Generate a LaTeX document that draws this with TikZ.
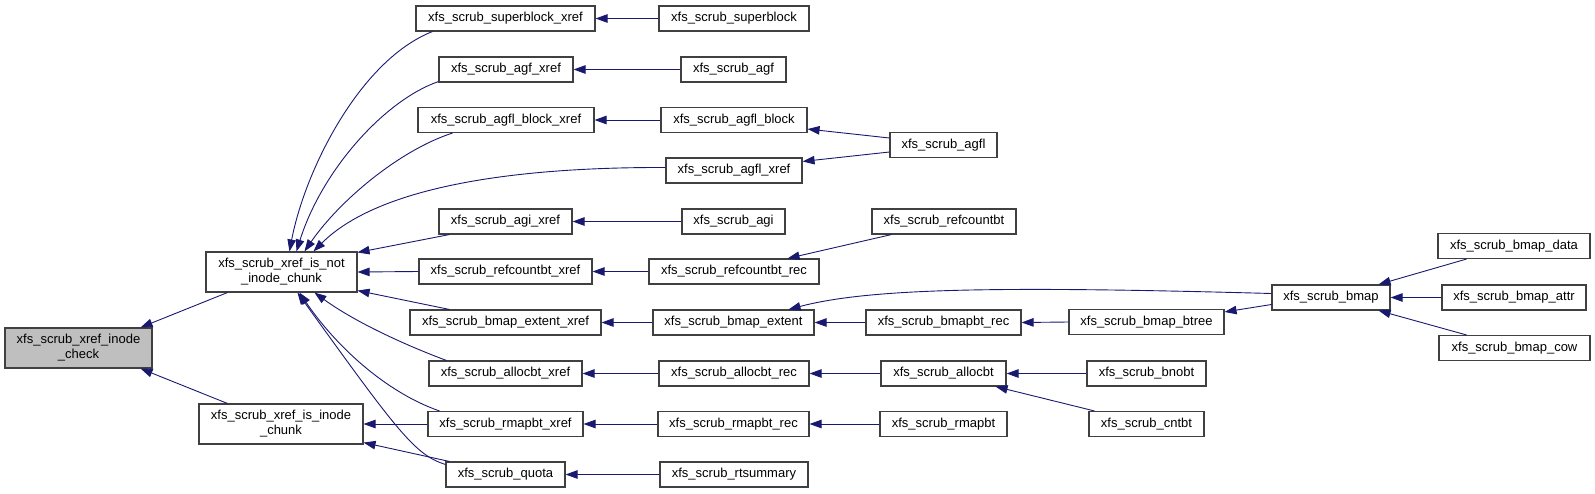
\documentclass[tikz,border=0pt]{standalone}
\usepackage{fontspec}
\setmainfont{Liberation Sans}
\usetikzlibrary{arrows.meta,calc}
\definecolor{edgeblue}{HTML}{191970}
\definecolor{boxgray}{HTML}{404040}
\definecolor{hlgray}{HTML}{BFBFBF}
\tikzset{
  box/.style={draw=boxgray, line width=1.1pt, fill=white, rectangle, inner sep=0pt,
    align=center, font=\fontsize{13}{15}\selectfont},
  edge/.style={draw=edgeblue, line width=0.9pt, -{Triangle[length=12pt,width=8.5pt]}},
}
\begin{document}
\begin{tikzpicture}[x=1pt,y=-1pt]
\useasboundingbox (0,0) rectangle (1595,493);
% column 1
\node[box, fill=hlgray, minimum width=147pt, minimum height=40pt] (ic) at (78.5,348) {xfs\_scrub\_xref\_inode\\\_check};
% column 2
\node[box, minimum width=151pt, minimum height=40pt] (isnot) at (281.5,272) {xfs\_scrub\_xref\_is\_not\\\_inode\_chunk};
\node[box, minimum width=164pt, minimum height=40pt] (isin) at (281,424) {xfs\_scrub\_xref\_is\_inode\\\_chunk};
% column 3
\node[box, minimum width=179pt, minimum height=25pt] (sbx) at (505.5,18.5) {xfs\_scrub\_superblock\_xref};
\node[box, minimum width=134pt, minimum height=25pt] (agfx) at (506,69.5) {xfs\_scrub\_agf\_xref};
\node[box, minimum width=176pt, minimum height=25pt] (agflbx) at (506,120) {xfs\_scrub\_agfl\_block\_xref};
\node[box, minimum width=133pt, minimum height=25pt] (agix) at (505.5,221.5) {xfs\_scrub\_agi\_xref};
\node[box, minimum width=173pt, minimum height=25pt] (rcx) at (505.5,271.5) {xfs\_scrub\_refcountbt\_xref};
\node[box, minimum width=191pt, minimum height=25pt] (bex) at (505.5,322.5) {xfs\_scrub\_bmap\_extent\_xref};
\node[box, minimum width=153pt, minimum height=25pt] (abx) at (505.5,373.5) {xfs\_scrub\_allocbt\_xref};
\node[box, minimum width=155pt, minimum height=25pt] (rmx) at (505.5,424) {xfs\_scrub\_rmapbt\_xref};
\node[box, minimum width=119pt, minimum height=25pt] (quota) at (505.5,474.5) {xfs\_scrub\_quota};
% column 4
\node[box, minimum width=150pt, minimum height=25pt] (sb) at (734,18.5) {xfs\_scrub\_superblock};
\node[box, minimum width=105pt, minimum height=25pt] (agf) at (733.5,69.5) {xfs\_scrub\_agf};
\node[box, minimum width=146pt, minimum height=25pt] (agflb) at (734,120) {xfs\_scrub\_agfl\_block};
\node[box, minimum width=136pt, minimum height=25pt] (agflx) at (734,170.5) {xfs\_scrub\_agfl\_xref};
\node[box, minimum width=103pt, minimum height=25pt] (agi) at (733.5,221.5) {xfs\_scrub\_agi};
\node[box, minimum width=170pt, minimum height=25pt] (rcrec) at (734,271.5) {xfs\_scrub\_refcountbt\_rec};
\node[box, minimum width=161pt, minimum height=25pt] (be) at (733.5,322.5) {xfs\_scrub\_bmap\_extent};
\node[box, minimum width=150pt, minimum height=25pt] (abrec) at (734,373.5) {xfs\_scrub\_allocbt\_rec};
\node[box, minimum width=151pt, minimum height=25pt] (rmrec) at (733.5,424) {xfs\_scrub\_rmapbt\_rec};
\node[box, minimum width=148pt, minimum height=25pt] (rts) at (734,474.5) {xfs\_scrub\_rtsummary};
% column 5
\node[box, minimum width=107pt, minimum height=25pt] (agfl) at (943.5,145) {xfs\_scrub\_agfl};
\node[box, minimum width=144pt, minimum height=25pt] (rcbt) at (944,221.5) {xfs\_scrub\_refcountbt};
\node[box, minimum width=155pt, minimum height=25pt] (bmrec) at (943.5,322.5) {xfs\_scrub\_bmapbt\_rec};
\node[box, minimum width=125pt, minimum height=25pt] (ab) at (943.5,373.5) {xfs\_scrub\_allocbt};
\node[box, minimum width=127pt, minimum height=25pt] (rm) at (943.5,424) {xfs\_scrub\_rmapbt};
% column 6
\node[box, minimum width=155pt, minimum height=25pt] (bbt) at (1146.5,322) {xfs\_scrub\_bmap\_btree};
\node[box, minimum width=119pt, minimum height=25pt] (bnobt) at (1146.5,373.5) {xfs\_scrub\_bnobt};
\node[box, minimum width=115pt, minimum height=25pt] (cntbt) at (1146.5,424) {xfs\_scrub\_cntbt};
% column 7
\node[box, minimum width=118pt, minimum height=25pt] (bmap) at (1331,297.5) {xfs\_scrub\_bmap};
% column 8
\node[box, minimum width=152pt, minimum height=25pt] (bdata) at (1514,246) {xfs\_scrub\_bmap\_data};
\node[box, minimum width=144pt, minimum height=25pt] (battr) at (1514,297.5) {xfs\_scrub\_bmap\_attr};
\node[box, minimum width=151pt, minimum height=25pt] (bcow) at (1514.5,348) {xfs\_scrub\_bmap\_cow};

% edges into inode_check
\draw[edge] ($(isnot.south west)+(22,0)$) -- ($(ic.north east)+(-12,0)$);
\draw[edge] ($(isin.north west)+(29,0)$) -- ($(ic.south east)+(-12,0)$);
% edges into is_not_inode_chunk
\draw[edge] ($(sbx.south west)+(17,0)$) .. controls (360,60) and (305,170) .. ($(isnot.north west)+(84,0)$);
\draw[edge] ($(agfx.south west)+(0,-1)$) .. controls (385,100) and (322,170) .. ($(isnot.north west)+(91,0)$);
\draw[edge] ($(agflbx.south west)+(35,0)$) .. controls (400,150) and (340,200) .. ($(isnot.north west)+(99,0)$);
\draw[edge] ($(agflx.west)+(0,-3)$) .. controls (520,167) and (380,185) .. ($(isnot.north west)+(108,0)$);
\draw[edge] ($(agix.south west)+(11,0)$) -- ($(isnot.north east)+(0,1)$);
\draw[edge] (rcx.west) -- (isnot.east);
\draw[edge] ($(bex.north west)+(40,0)$) -- ($(isnot.south east)+(0,-2)$);
\draw[edge] ($(abx.north west)+(18,0)$) .. controls (405,345) and (355,322) .. ($(isnot.south west)+(109,0)$);
\draw[edge] ($(rmx.north west)+(12,0)$) .. controls (385,392) and (335,345) .. ($(isnot.south west)+(94,0)$);
\draw[edge] ($(quota.north west)+(0,3)$) .. controls (415,455) and (398,432) .. ($(isnot.south west)+(92,0)$);
% edges into is_inode_chunk
\draw[edge] (rmx.west) -- (isin.east);
\draw[edge] ($(quota.north west)+(4,0)$) -- ($(isin.south east)+(0,-2)$);
% column 4 -> column 3
\draw[edge] (sb.west) -- (sbx.east);
\draw[edge] (agf.west) -- (agfx.east);
\draw[edge] (agflb.west) -- (agflbx.east);
\draw[edge] (agi.west) -- (agix.east);
\draw[edge] (rcrec.west) -- (rcx.east);
\draw[edge] (be.west) -- (bex.east);
\draw[edge] (abrec.west) -- (abx.east);
\draw[edge] (rmrec.west) -- (rmx.east);
\draw[edge] (rts.west) -- (quota.east);
% column 5 -> column 4
\draw[edge] ($(agfl.west)+(0,-7)$) -- ($(agflb.south east)+(0,-4)$);
\draw[edge] ($(agfl.west)+(0,7)$) -- ($(agflx.north east)+(0,4)$);
\draw[edge] ($(rcbt.south west)+(20,0)$) -- ($(rcrec.north east)+(-32,0)$);
\draw[edge] (bmrec.west) -- (be.east);
\draw[edge] (ab.west) -- (abrec.east);
\draw[edge] (rm.west) -- (rmrec.east);
% column 6 -> column 5
\draw[edge] (bbt.west) -- (bmrec.east);
\draw[edge] (bnobt.west) -- (ab.east);
\draw[edge] ($(cntbt.north west)+(6,0)$) -- ($(ab.south east)+(-11,0)$);
% bmap
\draw[edge] ($(bmap.west)+(0,-4)$) .. controls (1000,286) and (870,288) .. ($(be.north east)+(-26,0)$);
\draw[edge] ($(bmap.west)+(0,7)$) -- ($(bbt.north east)+(0,3)$);
% column 8 -> bmap
\draw[edge] ($(bdata.south west)+(29,0)$) -- ($(bmap.north east)+(-12,0)$);
\draw[edge] (battr.west) -- (bmap.east);
\draw[edge] ($(bcow.north west)+(28,0)$) -- ($(bmap.south east)+(-12,0)$);
\end{tikzpicture}
\end{document}
